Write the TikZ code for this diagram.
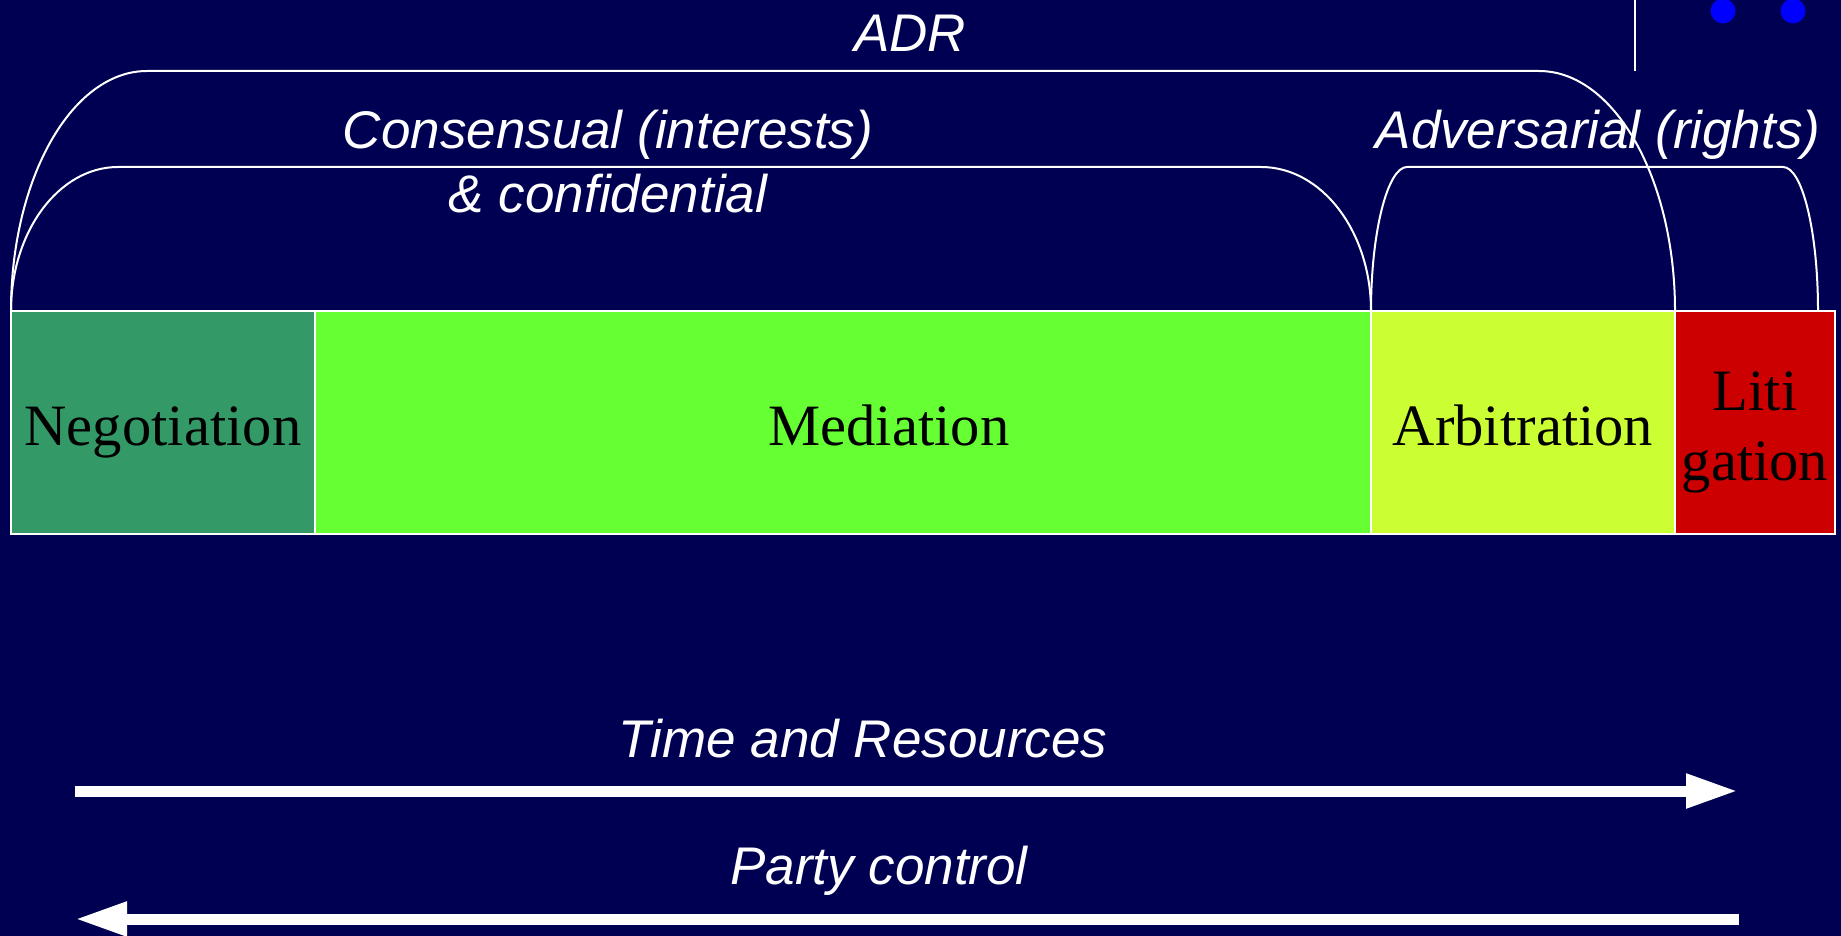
\documentclass[tikz,border=0pt]{standalone}
\usepackage{fontspec}
\setmainfont{Liberation Sans}
\newfontfamily\boxfont{Liberation Serif}
\usetikzlibrary{arrows.meta}
\definecolor{bg}{RGB}{0,0,82}
\definecolor{negc}{RGB}{51,153,102}
\definecolor{medc}{RGB}{102,255,51}
\definecolor{arbc}{RGB}{204,255,51}
\definecolor{litc}{RGB}{204,0,0}
\definecolor{dotc}{RGB}{0,0,255}
\begin{document}
\begin{tikzpicture}[x=0.5pt,y=-0.5pt,
  lbl/.style={text=white, font=\fontsize{26.5}{30}\selectfont\itshape, anchor=base, inner sep=0pt},
  boxlbl/.style={text=black, font=\boxfont\fontsize{29.3}{35}\selectfont, anchor=base, inner sep=0pt},
  stage/.style={draw=white, line width=1pt, anchor=north west, minimum height=111.5pt, inner sep=0pt, outer sep=0pt},
  bracket/.style={draw=white, line width=1pt},
  bigarrow/.style={draw=white, line width=5.5pt, -{Triangle[length=26pt,width=16pt]}}]
% background
\fill[bg] (0,0) rectangle (1841,936);
\useasboundingbox (0,0) rectangle (1841,936);

% stage boxes
\node[stage, fill=negc, minimum width=152pt] (neg) at (11,311) {};
\node[stage, fill=medc, minimum width=528pt] (med) at (315,311) {};
\node[stage, fill=arbc, minimum width=152pt] (arb) at (1371,311) {};
\node[stage, fill=litc, minimum width=80pt] (lit) at (1675,311) {};

% stage labels
\node[boxlbl] (negt) at (163,445) {Negotiation};
\node[boxlbl] (medt) at (889,445) {Mediation};
\node[boxlbl] (arbt) at (1523,445) {Arbitration};
\node[boxlbl] (litt1) at (1755,410) {Liti};
\node[boxlbl] (litt2) at (1755,480) {gation};

% bracket end points
\coordinate (adrL) at (11,311);
\coordinate (adrR) at (1675,311);
\coordinate (conL) at (11,311);
\coordinate (conR) at (1371,311);
\coordinate (advL) at (1371,311);
\coordinate (advR) at (1818,311);

% brackets
\draw[bracket] (adrL) .. controls (11,178.4) and (71.9,71) .. (147,71)
  -- (1539,71) .. controls (1614.1,71) and (1675,178.4) .. (adrR);
\draw[bracket] (conL) .. controls (11,231.5) and (58.9,167) .. (118,167)
  -- (1261,167) .. controls (1321.8,167) and (1371,231.5) .. (conR);
\draw[bracket] (advL) .. controls (1371,231.5) and (1387.7,167) .. (1407,167)
  -- (1783,167) .. controls (1802.3,167) and (1818,231.5) .. (advR);

% bracket labels
\node[lbl] (adr) at (910,52) {ADR};
\node[lbl] (cons) at (608,149) {Consensual (interests)};
\node[lbl] (conf) at (608,212.5) {\& confidential};
\node[lbl] (adv) at (1598,149) {Adversarial (rights)};

% top-right decoration
\coordinate (vt) at (1635,0);
\coordinate (vb) at (1635,71);
\draw[white, line width=1pt] (vt) -- (vb);
\fill[dotc] (1723,11) circle[radius=6.2pt];
\fill[dotc] (1793,11) circle[radius=6.2pt];

% arrows
\coordinate (trS) at (75,791);
\coordinate (trE) at (1738,791);
\coordinate (pcS) at (1739,919);
\coordinate (pcE) at (75,919);
\draw[bigarrow] (trS) -- (trE);
\draw[bigarrow] (pcS) -- (pcE);
\node[lbl] (tr) at (863,757) {Time and Resources};
\node[lbl] (pc) at (879,884) {Party control};
\end{tikzpicture}
\end{document}
